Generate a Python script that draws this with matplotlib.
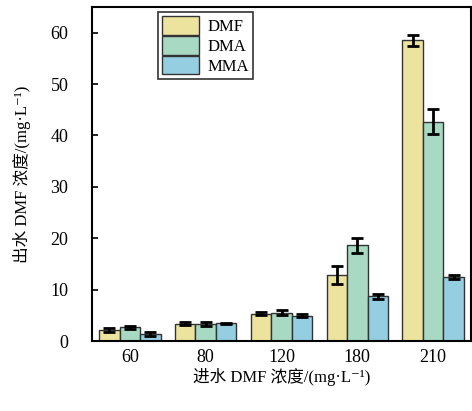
import numpy as np
import matplotlib
matplotlib.use("Agg")
import matplotlib.pyplot as plt

plt.rcParams['font.family'] = ['Liberation Serif', 'Noto Sans CJK SC', 'DejaVu Sans']

# influent concentration groups
groups = ['60', '80', '120', '180', '210']
series = ['DMF', 'DMA', 'MMA']

# effluent concentrations (mg/L) and error bars
dmf = [2.2, 3.4, 5.3, 12.8, 58.5]
dma = [2.7, 3.3, 5.5, 18.6, 42.7]
mma = [1.4, 3.5, 4.9, 8.7, 12.4]
dmf_err = [0.4, 0.3, 0.3, 1.8, 1.0]
dma_err = [0.3, 0.4, 0.5, 1.4, 2.4]
mma_err = [0.4, 0.1, 0.3, 0.5, 0.4]

colors = ['#ebe39e', '#a8d9c3', '#95cee0']

fig = plt.figure(figsize=(4.72, 4.11), dpi=100)
ax = fig.add_axes([92/472, 1 - 341/411, (471-92)/472, (341-7)/411])

x = np.arange(len(groups))
w = 0.27
vals = [dmf, dma, mma]
errs = [dmf_err, dma_err, mma_err]
for i in range(3):
    ax.bar(x + (i-1)*w, vals[i], w, color=colors[i], edgecolor='#333333',
           linewidth=1.0, label=series[i], zorder=2)
    ax.errorbar(x + (i-1)*w, vals[i], yerr=errs[i], fmt='none', ecolor='black',
                elinewidth=2.0, capsize=4.5, capthick=2.0, zorder=3)

ax.set_xlim(-0.5, 4.5)
ax.set_ylim(0, 65)
ax.set_xticks(x)
ax.set_xticklabels(groups)
ax.set_yticks(np.arange(0, 61, 10))
ax.tick_params(direction='in', length=4, width=1.2, labelsize=13)
ax.tick_params(axis='y', pad=17)
ax.tick_params(axis='x', pad=6)
for s in ax.spines.values():
    s.set_linewidth(1.5)

ax.set_xlabel('进水 DMF 浓度/(mg·L⁻¹)', fontsize=12, labelpad=1)
ax.set_ylabel('出水 DMF 浓度/(mg·L⁻¹)', fontsize=12, labelpad=14)

leg = ax.legend(loc='upper left', bbox_to_anchor=(0.175, 0.985), fontsize=12,
                frameon=True, fancybox=False, edgecolor='black',
                handlelength=2.2, handleheight=1.35, handletextpad=0.5,
                labelspacing=0.05, borderpad=0.25, borderaxespad=0)
leg.get_frame().set_linewidth(1.2)

fig.savefig('out.png', dpi=100)
